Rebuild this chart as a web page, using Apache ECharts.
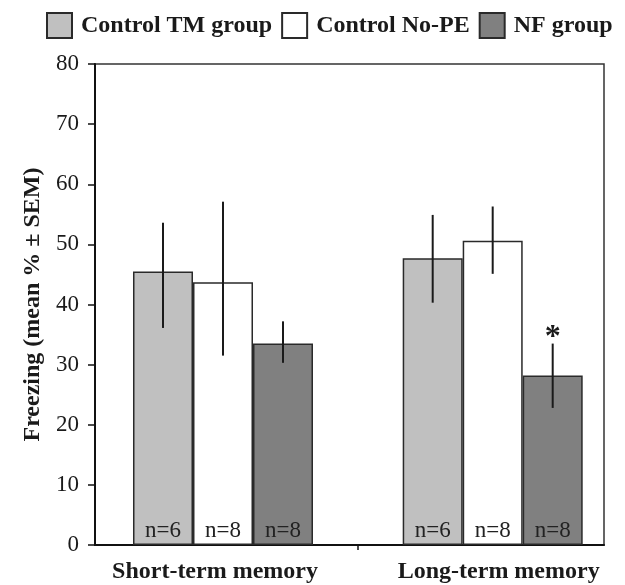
<!DOCTYPE html>
<html>
<head>
<meta charset="utf-8">
<script src="https://cdn.jsdelivr.net/npm/echarts@6/dist/echarts.min.js"></script>
<style>
html,body{margin:0;padding:0;background:#fff;}
#chart{width:625px;height:585px;}
</style>
</head>
<body>
<div id="chart"></div>
<script>
// ---- data ----
const categories = ['Short-term memory', 'Long-term memory'];
const seriesNames = ['Control TM group', 'Control No-PE', 'NF group'];
const tmMeans = [45.5, 47.7];
const nopeMeans = [43.7, 50.6];
const nfMeans = [33.5, 28.2];
const tmErrLow = [36.1, 40.3];
const tmErrHigh = [53.6, 54.9];
const nopeErrLow = [31.5, 45.1];
const nopeErrHigh = [57.1, 56.3];
const nfErrLow = [30.3, 22.8];
const nfErrHigh = [37.2, 33.5];
const tmN = ['n=6', 'n=6'];
const nopeN = ['n=8', 'n=8'];
const nfN = ['n=8', 'n=8'];
const nfSignificance = ['', '*'];
const yTicks = [0, 10, 20, 30, 40, 50, 60, 70, 80];

// ---- styling ----
const FONT = '"Liberation Serif", "Times New Roman", serif';
const colors = ['#c0c0c0', '#ffffff', '#808080'];
const BAR_W = 60;

const positions = categories.map((_, i) => i + 0.5);
const means = [tmMeans, nopeMeans, nfMeans];
const lows = [tmErrLow, nopeErrLow, nfErrLow];
const highs = [tmErrHigh, nopeErrHigh, nfErrHigh];
const nLabels = [tmN, nopeN, nfN];
const sigs = [null, null, nfSignificance];
const catLabelKeys = ['a', 'b'];

const chart = echarts.init(document.getElementById('chart'), null, {renderer: 'canvas'});

const barSeries = seriesNames.map((name, k) => ({
  name: name,
  type: 'bar',
  barWidth: BAR_W,
  barGap: '0%',
  data: positions.map((p, i) => [p, means[k][i]]),
  itemStyle: {color: colors[k], borderColor: '#2a2a2a', borderWidth: 1.5},
  label: {
    show: true,
    position: 'insideBottom',
    distance: 3,
    formatter: (p) => nLabels[k][p.dataIndex],
    fontFamily: FONT,
    fontSize: 23,
    color: '#222'
  },
  emphasis: {disabled: true},
  z: 2
}));

const errSeries = seriesNames.map((name, k) => ({
  name: name + ' err',
  type: 'custom',
  data: positions.map((p, i) => [p, lows[k][i], highs[k][i], sigs[k] ? sigs[k][i] : '']),
  renderItem: function (params, api) {
    const lo = api.coord([api.value(0), api.value(1)]);
    const hi = api.coord([api.value(0), api.value(2)]);
    const x = lo[0] + (k - 1) * BAR_W;
    const children = [{
      type: 'line',
      shape: {x1: x, y1: lo[1], x2: x, y2: hi[1]},
      style: {stroke: '#1a1a1a', lineWidth: 2}
    }];
    const s = api.value(3);
    if (s) {
      children.push({
        type: 'text',
        style: {
          text: s, x: x, y: hi[1] - 6,
          align: 'center', verticalAlign: 'middle',
          fontFamily: FONT, fontSize: 32, fontWeight: 'bold', fill: '#1a1a1a'
        }
      });
    }
    return {type: 'group', children: children};
  },
  z: 3,
  silent: true
}));

chart.setOption({
  animation: false,
  backgroundColor: '#ffffff',
  legend: {
    data: seriesNames,
    left: 41,
    top: 7,
    icon: 'rect',
    itemWidth: 25,
    itemHeight: 25,
    itemGap: 9,
    selectedMode: false,
    textStyle: {fontFamily: FONT, fontSize: 24, fontWeight: 'bold', color: '#1a1a1a', padding: [0, 0, 0, 4]}
  },
  grid: {
    left: 95, right: 21, top: 64, bottom: 40,
    show: true, borderColor: '#333', borderWidth: 1.5,
    containLabel: false
  },
  xAxis: {
    type: 'value',
    min: 0.0254,
    max: 1.9127,
    axisLine: {show: true, onZero: false, lineStyle: {color: '#111', width: 2}},
    axisTick: {show: true, customValues: [1], length: 5, lineStyle: {color: '#111', width: 1.5}},
    axisLabel: {
      show: true,
      customValues: positions,
      formatter: (v) => {
        const i = Math.round(v - 0.5);
        return '{' + catLabelKeys[i] + '|' + categories[i] + '}';
      },
      margin: 15,
      fontFamily: FONT, fontSize: 24, fontWeight: 'bold', color: '#1a1a1a',
      rich: {
        a: {fontFamily: FONT, fontSize: 24, fontWeight: 'bold', color: '#1a1a1a', padding: [0, 16, 0, 0]},
        b: {fontFamily: FONT, fontSize: 24, fontWeight: 'bold', color: '#1a1a1a', padding: [0, 0, 0, 12]}
      }
    },
    splitLine: {show: false}
  },
  yAxis: {
    type: 'value',
    min: yTicks[0],
    max: yTicks[yTicks.length - 1],
    interval: yTicks[1] - yTicks[0],
    name: 'Freezing (mean % ± SEM)',
    nameLocation: 'middle',
    nameGap: 44,
    nameTextStyle: {fontFamily: FONT, fontSize: 24, fontWeight: 'bold', color: '#1a1a1a'},
    axisLine: {show: true, lineStyle: {color: '#111', width: 2}},
    axisTick: {show: true, length: 7, lineStyle: {color: '#111', width: 1.5}},
    axisLabel: {margin: 16, fontFamily: FONT, fontSize: 23, color: '#1a1a1a'},
    splitLine: {show: false}
  },
  series: barSeries.concat(errSeries)
});
</script>
</body>
</html>
